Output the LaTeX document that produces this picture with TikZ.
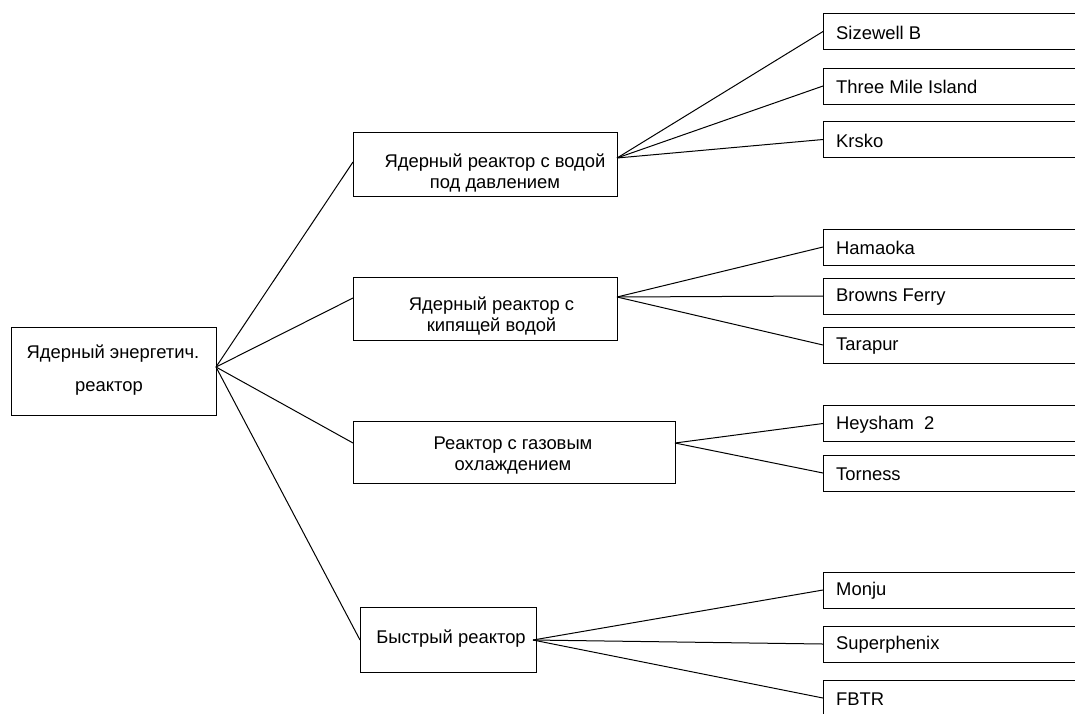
\documentclass[tikz,border=0pt]{standalone}
\usepackage{fontspec}
\setmainfont{Liberation Sans}
\begin{document}
\begin{tikzpicture}[x=1pt,y=-1pt,
  box/.style={draw,line width=1pt,inner sep=0pt},
  leaf/.style={box,minimum width=270pt,minimum height=36pt,anchor=west},
  txt/.style={font=\fontsize{18.4}{21}\selectfont,inner sep=0pt,align=center},
  ltxt/.style={txt,anchor=west},
  link/.style={line width=1pt}]
\useasboundingbox (0,0) rectangle (1075,713);
\clip (0,0) rectangle (1075,713);
\fill[white] (0,0) rectangle (1075,713);
% root
\node[box,minimum width=205pt,minimum height=88pt] (root) at (113.5,371) {};
\node[txt] (rt1) at (113,354) {Ядерный энергетич.};
\node[txt] (rt2) at (109,388) {реактор};
% middle boxes
\node[box,minimum width=264pt,minimum height=64pt] (b1) at (485,164.5) {};
\node[txt] (t1) at (495,173) {Ядерный реактор с водой\\под давлением};
\node[box,minimum width=264pt,minimum height=63pt] (b2) at (485,308.5) {};
\node[txt] (t2) at (491.5,316) {Ядерный реактор с\\кипящей водой};
\node[box,minimum width=322pt,minimum height=62pt] (b3) at (514,452) {};
\node[txt] (t3) at (513,455) {Реактор с газовым\\охлаждением};
\node[box,minimum width=176pt,minimum height=65pt] (b4) at (448,639.5) {};
\node[txt] (t4) at (451,639) {Быстрый реактор};
% ports
\coordinate (r) at (216,367);
\coordinate (b1i) at (353,162);
\coordinate (b2i) at (353,298);
\coordinate (b3i) at (353,443);
\coordinate (b4i) at (360,640);
\coordinate (b1o) at (617,158);
\coordinate (b2o) at (617,297);
\coordinate (b3o) at (675,443);
\coordinate (b4o) at (533,640);
% leaves
\node[leaf] (l1) at (823,31.5) {};
\node[ltxt] at (836,32.5) {Sizewell B};
\node[leaf] (l2) at (823,86) {};
\node[ltxt] at (836,87) {Three Mile Island};
\node[leaf] (l3) at (823,139.5) {};
\node[ltxt] at (836,140.5) {Krsko};
\node[leaf] (l4) at (823,247) {};
\node[ltxt] at (836,248) {Hamaoka};
\node[leaf] (l5) at (823,296) {};
\node[ltxt] at (836,297) {Browns Ferry};
\node[leaf] (l6) at (823,345) {};
\node[ltxt] at (836,346) {Tarapur};
\node[leaf] (l7) at (823,423.5) {};
\node[ltxt] at (836,424.5) {Heysham\ \ 2};
\node[leaf] (l8) at (823,473) {};
\node[ltxt] at (836,474) {Torness};
\node[leaf] (l9) at (823,590) {};
\node[ltxt] at (836,591) {Monju};
\node[leaf] (l10) at (823,644) {};
\node[ltxt] at (836,645) {Superphenix};
\node[leaf] (l11) at (823,698) {};
\node[ltxt] at (836,699) {FBTR};
% connectors
\draw[link] (r) -- (b1i);
\draw[link] (r) -- (b2i);
\draw[link] (r) -- (b3i);
\draw[link] (r) -- (b4i);
\draw[link] (b1o) -- (l1.west);
\draw[link] (b1o) -- (l2.west);
\draw[link] (b1o) -- (l3.west);
\draw[link] (b2o) -- (l4.west);
\draw[link] (b2o) -- (l5.west);
\draw[link] (b2o) -- (l6.west);
\draw[link] (b3o) -- (l7.west);
\draw[link] (b3o) -- (l8.west);
\draw[link] (b4o) -- (l9.west);
\draw[link] (b4o) -- (l10.west);
\draw[link] (b4o) -- (l11.west);
\end{tikzpicture}
\end{document}
